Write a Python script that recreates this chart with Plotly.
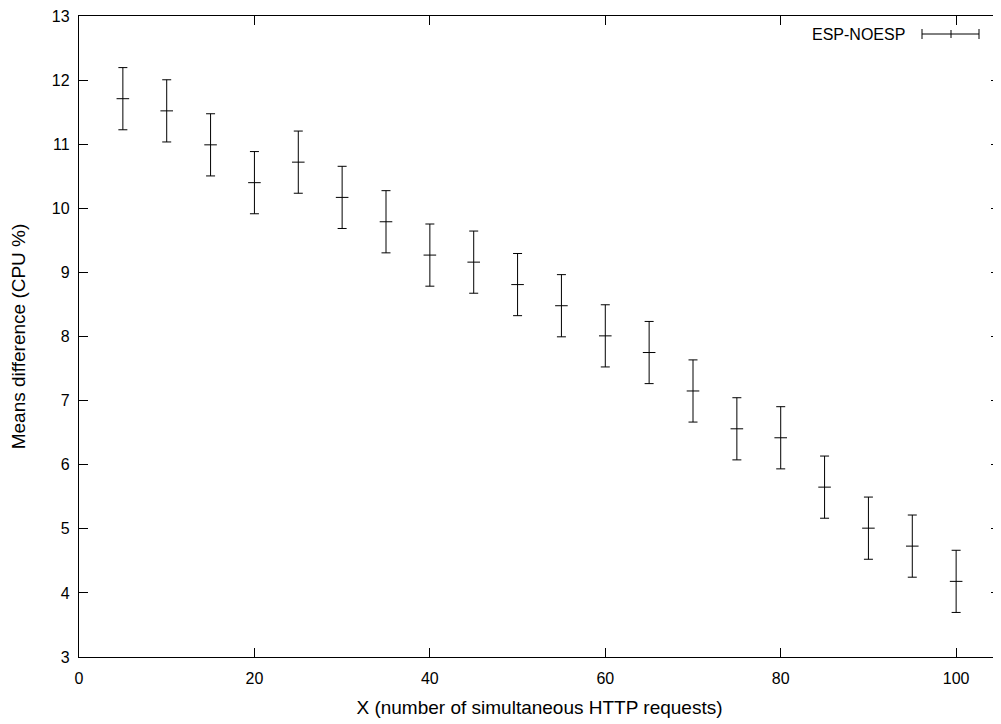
import plotly.graph_objects as go

# requests (x) and mean CPU difference with its error
requests = [5, 10, 15, 20, 25, 30, 35, 40, 45, 50,
            55, 60, 65, 70, 75, 80, 85, 90, 95, 100]
mean_diff = [11.71, 11.52, 10.99, 10.40, 10.72, 10.17, 9.79, 9.27, 9.16, 8.81,
             8.48, 8.01, 7.75, 7.15, 6.56, 6.42, 5.65, 5.01, 4.73, 4.18]
err = [0.485] * len(requests)

x_ticks = [0, 20, 40, 60, 80, 100]
y_ticks = [3, 4, 5, 6, 7, 8, 9, 10, 11, 12, 13]

# page body has an 8px margin, so the figure is shrunk/shifted to compensate
W, H = 993, 716
L, R, T, B = 71, 1, 8, 67
FONT = dict(family="Liberation Sans, Arial, sans-serif", size=16, color="black")

fig = go.Figure()

fig.add_trace(go.Scatter(
    x=requests, y=mean_diff, mode="markers", name="ESP-NOESP",
    marker=dict(symbol="line-ew", size=9, line=dict(width=1, color="black")),
    error_y=dict(type="data", array=err, visible=True, color="black",
                 thickness=1, width=4.5),
    showlegend=False,
))

fig.update_layout(
    width=W, height=H,
    margin=dict(l=L, r=R, t=T, b=B, autoexpand=False),
    paper_bgcolor="white", plot_bgcolor="white",
    font=FONT,
    xaxis=dict(range=[0, 105], tickvals=x_ticks, ticks="inside", ticklen=9,
               tickwidth=1, tickcolor="black", showline=True, linecolor="black",
               linewidth=1.3, mirror="ticks", showgrid=False, zeroline=False,
               automargin=False, ticklabelstandoff=7, ticklabeloverflow="allow",
               title=dict(text="X (number of simultaneous HTTP requests)",
                          standoff=14)),
    yaxis=dict(range=[3, 13], tickvals=y_ticks, ticks="inside", ticklen=9,
               tickwidth=1, tickcolor="black", showline=True, linecolor="black",
               linewidth=1.3, mirror="ticks", showgrid=False, zeroline=False,
               automargin=False, ticklabelstandoff=5, ticklabeloverflow="allow",
               title=dict(text="Means difference (CPU %)", standoff=23)),
)


# legend drawn by hand, gnuplot style (key with a horizontal error bar)
# coordinates below are in reference-image pixels
def px(xp):
    return (xp - 8 - L) / (W - L - R)


def py(yp):
    return 1 - (yp - 8 - T) / (H - T - B)


key_y = py(34)
fig.add_annotation(x=px(907), y=key_y, xref="paper", yref="paper",
                   text="ESP-NOESP", showarrow=False, xanchor="right",
                   yanchor="middle", font=FONT)
fig.add_shape(type="line", xref="paper", yref="paper",
              x0=px(922), x1=px(979), y0=key_y, y1=key_y,
              line=dict(color="black", width=1))
for xp in (922, 979):
    fig.add_shape(type="line", xref="paper", yref="paper",
                  x0=px(xp), x1=px(xp), y0=py(29), y1=py(39),
                  line=dict(color="black", width=1))
fig.add_shape(type="line", xref="paper", yref="paper",
              x0=px(951), x1=px(951), y0=py(30), y1=py(38),
              line=dict(color="black", width=1))

fig.write_html("out.html")
